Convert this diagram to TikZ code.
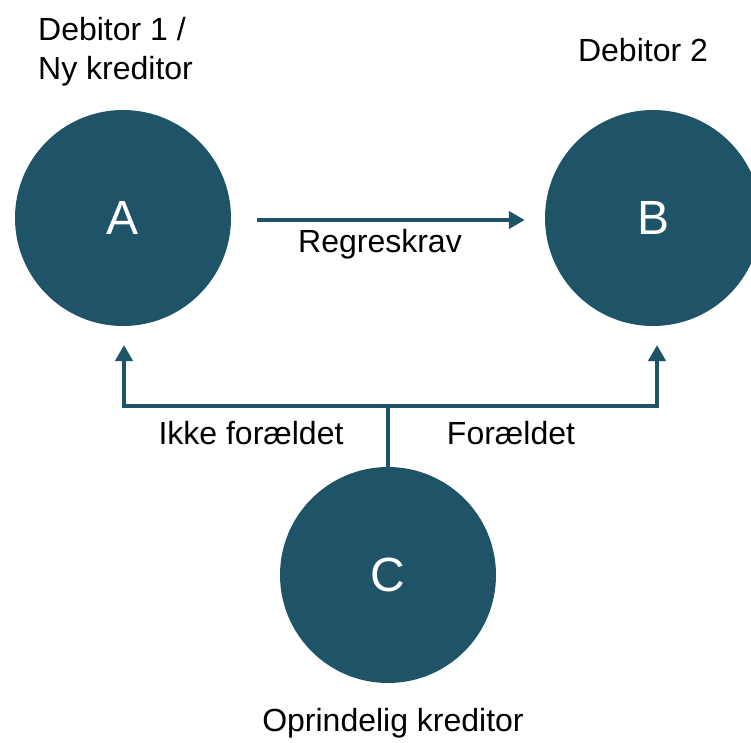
\documentclass[tikz,border=0pt]{standalone}
\usepackage{fontspec}
\setmainfont{Liberation Sans}
\usetikzlibrary{arrows.meta}
\definecolor{teal}{HTML}{1F5468}
\begin{document}
\begin{tikzpicture}[x=1pt,y=-1pt,
  circ/.style={circle,fill=teal,draw=none,minimum size=216pt,inner sep=0pt,text=white,font=\fontsize{48}{52}\selectfont},
  lbl/.style={inner sep=0pt,font=\fontsize{32}{39}\selectfont},
  arr/.style={draw=teal,line width=4.5pt,-{Triangle[width=17pt,length=16pt]}},
  ln/.style={draw=teal,line width=4.5pt}]
\useasboundingbox (0,0) rectangle (751,742);
\node[circ] (A) at (123,218) {A};
\node[circ] (B) at (653,218) {B};
\node[circ] (C) at (388,575) {C};
\node[lbl,align=left,anchor=north west] (d1) at (38,17) {Debitor 1 /\\Ny kreditor};
\node[lbl] (d2) at (643,50) {Debitor 2};
\node[lbl] (rk) at (380,244) {Regreskrav};
\node[lbl] (ik) at (251,433) {Ikke forældet};
\node[lbl] (fo) at (511,433) {Forældet};
\node[lbl] (op) at (393,723) {Oprindelig kreditor};
\coordinate (j) at (388,406);
\coordinate (tA) at (124,345);
\coordinate (tB) at (657,345);
\draw[arr] ([xshift=26pt,yshift=-2pt]A.east) -- ([xshift=-20pt,yshift=-2pt]B.west);
\draw[ln] (C.north) -- (j);
\draw[arr] (j) -| (tA);
\draw[arr] (j) -| (tB);
\end{tikzpicture}
\end{document}
